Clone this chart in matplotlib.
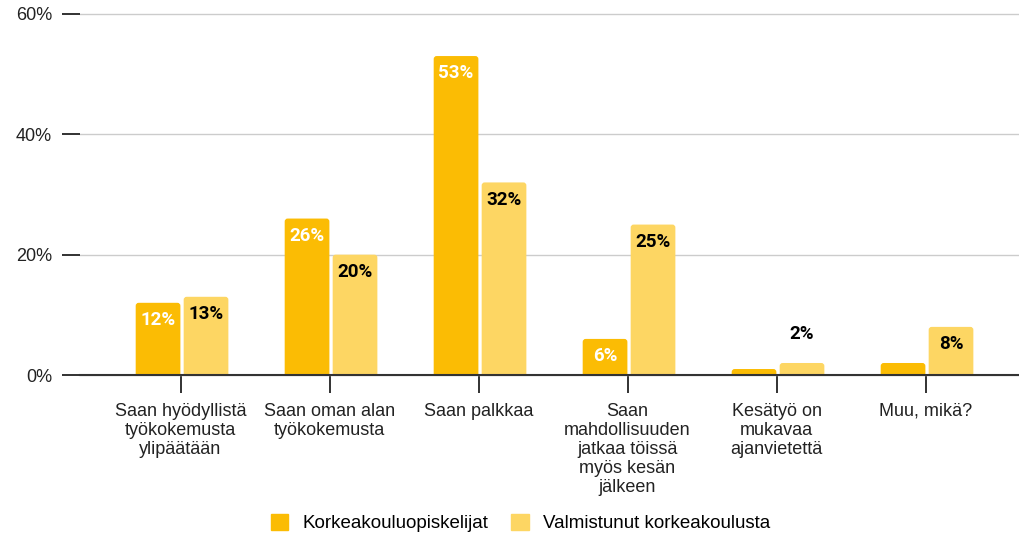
import matplotlib
matplotlib.use('Agg')
import numpy as np
import matplotlib.pyplot as plt
from matplotlib.patches import FancyBboxPatch


plt.rcParams['font.family'] = ['Liberation Sans', 'DejaVu Sans']


# =============================================================================
# Data
# =============================================================================

categories = [
    "Saan hyödyllistä\ntyökokemusta\nylipäätään",
    "Saan oman alan\ntyökokemusta",
    "Saan palkkaa",
    "Saan\nmahdollisuuden\njatkaa töissä\nmyös kesän\njälkeen",
    "Kesätyö on\nmukavaa\najanvietettä",
    "Muu, mikä?",
]
series_names = ["Korkeakouluopiskelijat", "Valmistunut korkeakoulusta"]
students = [12, 26, 53, 6, 1, 2]
graduates = [13, 20, 32, 25, 2, 8]
# which bars carry a value label
students_labelled = [True, True, True, True, False, False]
graduates_labelled = [True, True, True, True, True, True]
yticks = [0, 20, 40, 60]

col_students = '#FBBC04'
col_graduates = '#FDD663'


# =============================================================================
# Figure
# =============================================================================

fig = plt.figure(figsize=(10.2, 5.35), dpi=100)
ax = fig.add_axes([0.0784, 0.299, 0.9216, 0.675])

x = np.arange(len(categories))
width = 0.30


def rounded_bars(ax, xs, vals, color):
    # bars with slightly rounded top corners (bottom sits below the clip)
    for xi, v in zip(xs, vals):
        p = FancyBboxPatch((xi - width / 2, -2), width, v + 2,
                           boxstyle='round,pad=0,rounding_size=0.02',
                           mutation_aspect=25, facecolor=color,
                           edgecolor='none', zorder=3)
        ax.add_patch(p)


rounded_bars(ax, x - 0.151, students, col_students)
rounded_bars(ax, x + 0.171, graduates, col_graduates)

lab_kw = dict(textcoords='offset points', ha='center', va='center',
              fontsize=13.5, fontweight='bold',
              family=['Roboto', 'DejaVu Sans'], zorder=4)

for xi, v, show in zip(x - 0.151, students, students_labelled):
    if show:
        ax.annotate(f"{v}%", (xi, v), xytext=(0, -12.5), color='white', **lab_kw)

for xi, v, show in zip(x + 0.171, graduates, graduates_labelled):
    if not show:
        continue
    dy = -12.5 if v >= 5 else 21
    ax.annotate(f"{v}%", (xi, v), xytext=(0, dy), color='black', **lab_kw)

ax.set_ylim(0, 60)
ax.set_xlim(-0.675, 5.634)
ax.set_yticks(yticks)
ax.set_yticklabels([f"{t}%" for t in yticks], fontsize=13, color='#222222')
ax.set_xticks(x)
ax.set_xticklabels(categories, fontsize=13, color='#222222', linespacing=1.15)

ax.yaxis.grid(True, color='#cccccc', linewidth=1.0, zorder=0)
ax.set_axisbelow(True)
for s in ['top', 'right', 'left']:
    ax.spines[s].set_visible(False)
ax.spines['bottom'].set_color('#333333')
ax.spines['bottom'].set_linewidth(1.5)
ax.spines['bottom'].set_zorder(5)

ax.tick_params(axis='y', length=13, width=1.3, color='#222222', pad=7)
ax.tick_params(axis='x', length=13, width=1.3, color='#222222', pad=7)
for gl in ax.get_ygridlines():
    gl.set_clip_on(False)

# legend
handles = [plt.Rectangle((0, 0), 1, 1, color=col_students),
           plt.Rectangle((0, 0), 1, 1, color=col_graduates)]
fig.legend(handles, series_names, loc='center', bbox_to_anchor=(0.51, 0.022),
           ncol=2, frameon=False, fontsize=13.5, handlelength=0.95,
           handleheight=0.95, columnspacing=1.2, handletextpad=0.75)

plt.savefig('out.png', dpi=100)
